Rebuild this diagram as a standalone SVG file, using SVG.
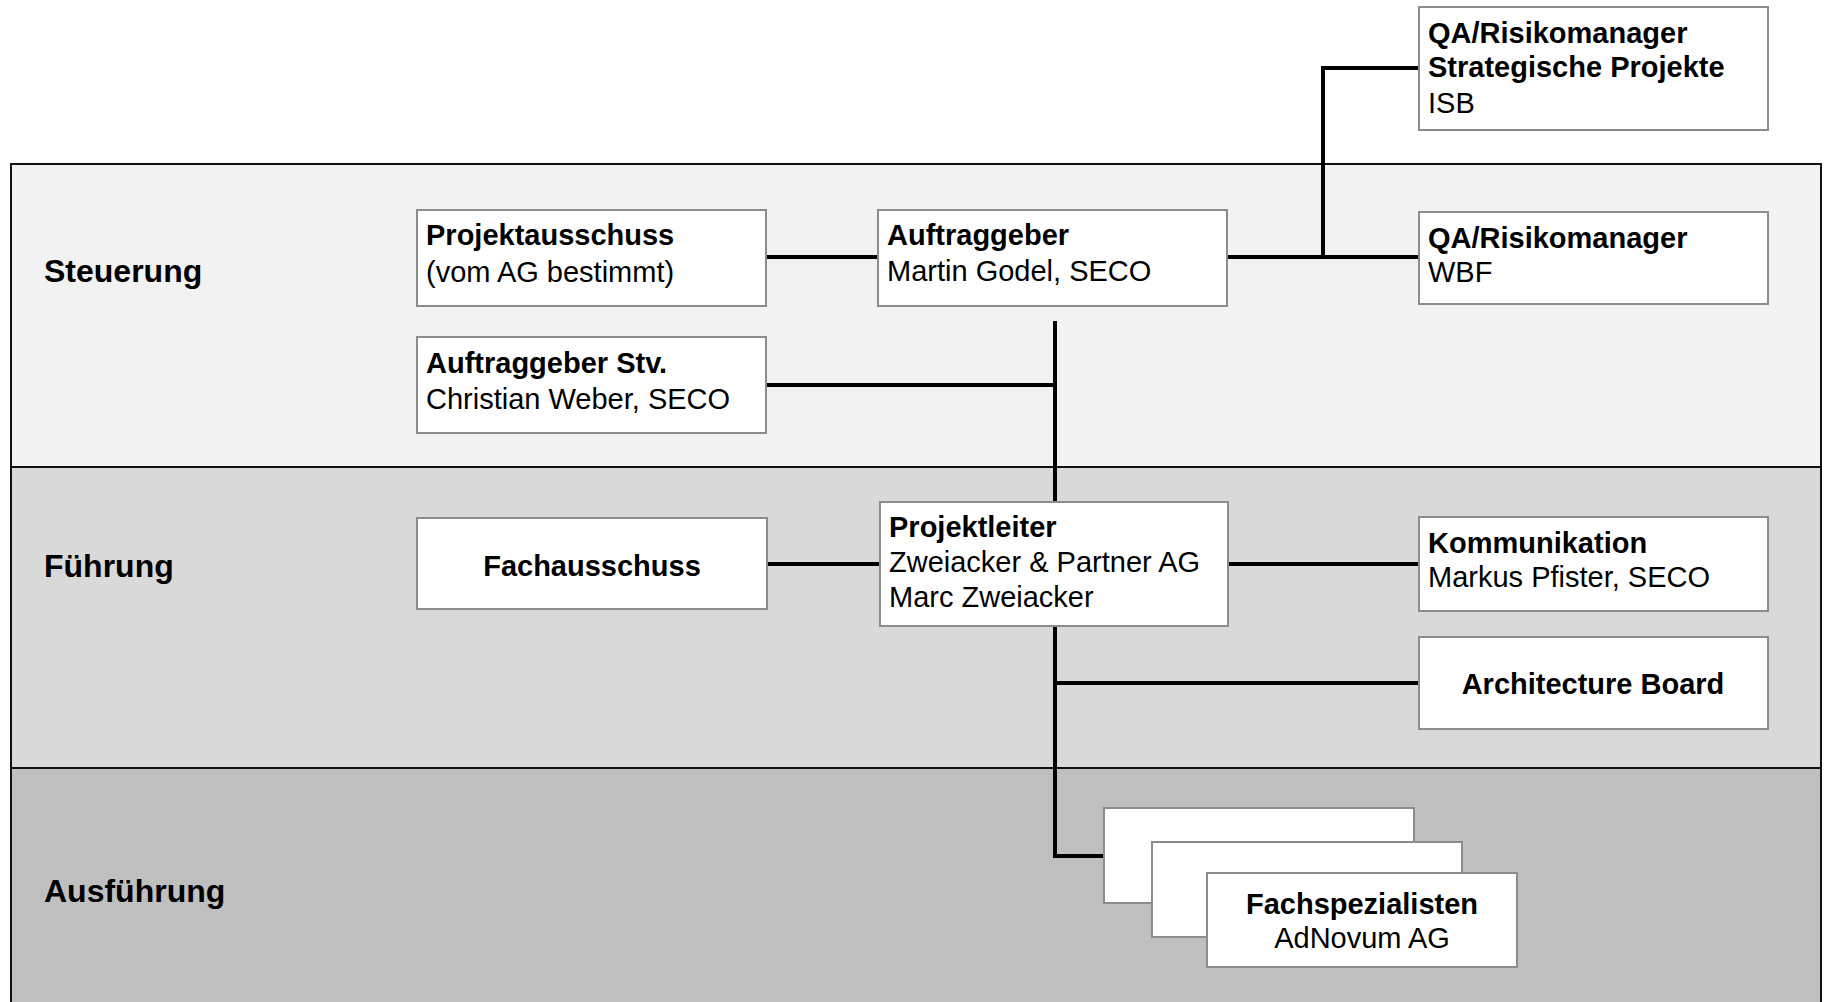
<svg xmlns="http://www.w3.org/2000/svg" width="1827" height="1002" viewBox="0 0 1827 1002">
<style>
text{font-family:"Liberation Sans",Arial,sans-serif;fill:#000}
.lbl{font-size:32px;font-weight:bold}
.t{font-size:29px}
.b{font-weight:bold}
.box{fill:#fff;stroke:#8c8c8c;stroke-width:2}
.con{stroke:#000;stroke-width:4;fill:none}
.div{stroke:#111;stroke-width:2}
</style>
<g id="bands">
<rect x="11" y="164" width="1810" height="303" fill="#f2f2f2"/>
<rect x="11" y="467" width="1810" height="301" fill="#d9d9d9"/>
<rect x="11" y="768" width="1810" height="240" fill="#bfbfbf"/>
<path class="div" d="M11,1008 V164 H1821 V1008 M11,467 H1821 M11,768 H1821" fill="none"/>
<text class="lbl" x="44" y="282">Steuerung</text>
<text class="lbl" x="44" y="577">Führung</text>
<text class="lbl" x="44" y="902">Ausführung</text>
</g>
<g id="connectors">
<path class="con" d="M766,257 H878"/>
<path class="con" d="M1227,257 H1419"/>
<path class="con" d="M1323,257 V68 H1419"/>
<path class="con" d="M1055,321 V856 H1105"/>
<path class="con" d="M766,385 H1055"/>
<path class="con" d="M767,564 H880"/>
<path class="con" d="M1228,564 H1419"/>
<path class="con" d="M1055,683 H1419"/>
</g>
<g id="qa-isb">
<rect class="box" x="1419" y="7" width="349" height="123"/>
<text class="t b" x="1428" y="43">QA/Risikomanager</text>
<text class="t b" x="1428" y="77">Strategische Projekte</text>
<text class="t" x="1428" y="113">ISB</text>
</g>
<g id="projektausschuss">
<rect class="box" x="417" y="210" width="349" height="96"/>
<text class="t b" x="426" y="245">Projektausschuss</text>
<text class="t" x="426" y="282">(vom AG bestimmt)</text>
</g>
<g id="auftraggeber">
<rect class="box" x="878" y="210" width="349" height="96"/>
<text class="t b" x="887" y="245">Auftraggeber</text>
<text class="t" x="887" y="281">Martin Godel, SECO</text>
</g>
<g id="qa-wbf">
<rect class="box" x="1419" y="212" width="349" height="92"/>
<text class="t b" x="1428" y="248">QA/Risikomanager</text>
<text class="t" x="1428" y="282">WBF</text>
</g>
<g id="auftraggeber-stv">
<rect class="box" x="417" y="337" width="349" height="96"/>
<text class="t b" x="426" y="373">Auftraggeber Stv.</text>
<text class="t" x="426" y="409">Christian Weber, SECO</text>
</g>
<g id="fachausschuss">
<rect class="box" x="417" y="518" width="350" height="91"/>
<text class="t b" x="592" y="576" text-anchor="middle">Fachausschuss</text>
</g>
<g id="projektleiter">
<rect class="box" x="880" y="502" width="348" height="124"/>
<text class="t b" x="889" y="537">Projektleiter</text>
<text class="t" x="889" y="572">Zweiacker &amp; Partner AG</text>
<text class="t" x="889" y="607">Marc Zweiacker</text>
</g>
<g id="kommunikation">
<rect class="box" x="1419" y="517" width="349" height="94"/>
<text class="t b" x="1428" y="553">Kommunikation</text>
<text class="t" x="1428" y="587">Markus Pfister, SECO</text>
</g>
<g id="architecture-board">
<rect class="box" x="1419" y="637" width="349" height="92"/>
<text class="t b" x="1593" y="694" text-anchor="middle">Architecture Board</text>
</g>
<g id="fachspezialisten">
<rect class="box" x="1104" y="808" width="310" height="95"/>
<rect class="box" x="1152" y="842" width="310" height="95"/>
<rect class="box" x="1207" y="873" width="310" height="94"/>
<text class="t b" x="1362" y="914" text-anchor="middle">Fachspezialisten</text>
<text class="t" x="1362" y="948" text-anchor="middle">AdNovum AG</text>
</g>
</svg>
